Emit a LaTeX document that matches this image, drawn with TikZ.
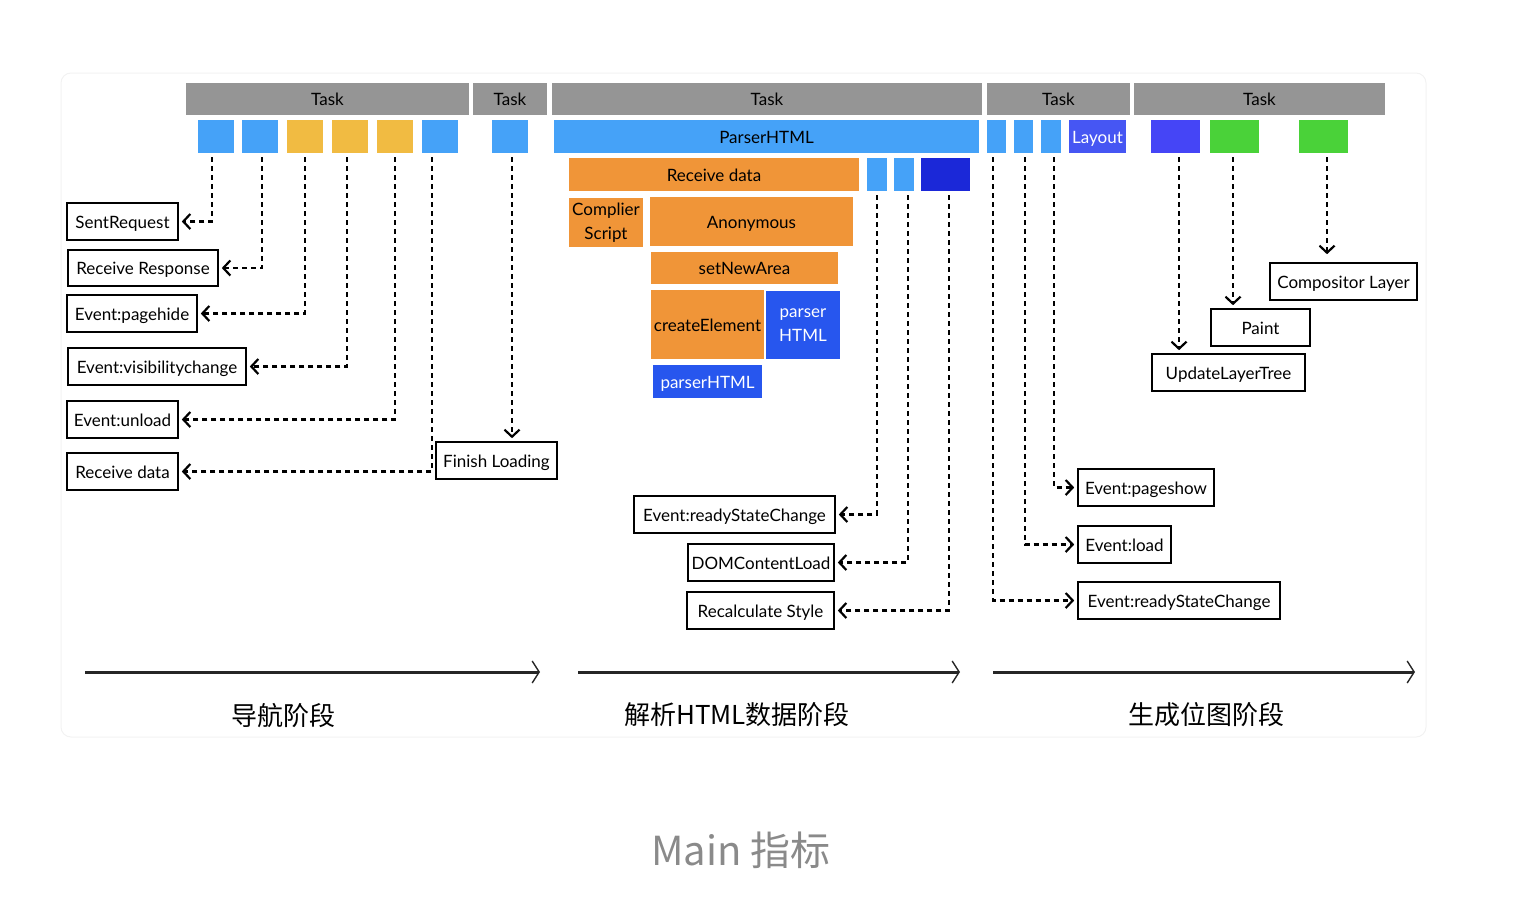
\documentclass[tikz,border=0pt]{standalone}
\usepackage{fontspec}
\setmainfont{Lato}
\newfontfamily\cjkfont{Noto Sans CJK SC}
\usepackage{tikz}
\usetikzlibrary{arrows.meta}
\definecolor{taskgray}{HTML}{959595}
\definecolor{lblue}{HTML}{45A2F8}
\definecolor{tyellow}{HTML}{F1BB42}
\definecolor{torange}{HTML}{F09538}
\definecolor{dblue}{HTML}{1B28D8}
\definecolor{mblue}{HTML}{2756EE}
\definecolor{layblue}{HTML}{4656F3}
\definecolor{vblue}{HTML}{4545F6}
\definecolor{tgreen}{HTML}{4AD239}
\definecolor{capgray}{HTML}{8A8A8A}
\tikzstyle{every node}=[font=\fontsize{17}{24}\selectfont]
\tikzstyle{cell}=[rectangle,inner sep=0pt,minimum height=33pt]
\tikzstyle{blk}=[cell,text height=16pt,text depth=2.5pt]
\tikzstyle{task}=[blk,fill=taskgray,minimum height=32pt]
\tikzstyle{evt}=[draw,rectangle,line width=1.6pt,fill=white,inner sep=0pt,minimum height=37pt,text height=16pt,text depth=2.5pt]
\tikzstyle{dline}=[-{Straight Barb[length=7pt,width=15pt,line width=2.2pt]},line width=2.3pt,dash pattern=on 5pt off 4pt,shorten <=4pt,shorten >=3pt]
\tikzstyle{phase}=[line width=3pt,black!85,-{Straight Barb[length=7pt,width=22pt,line width=1.4pt]}]
\tikzstyle{stage}=[font=\cjkfont\fontsize{26}{30}\selectfont]

\begin{document}
\begin{tikzpicture}[x=1pt,y=-1pt]
	\useasboundingbox (0,0) rectangle (1536,910);
	\draw[black!5,line width=1pt,rounded corners=10pt] (61,73) rectangle (1426,737);

	\node(t1)[task,minimum width=283pt] at (327.5,99){Task};
	\node(t2)[task,minimum width=74pt] at (510,99){Task};
	\node(t3)[task,minimum width=430pt] at (767,99){Task};
	\node(t4)[task,minimum width=143pt] at (1058.5,99){Task};
	\node(t5)[task,minimum width=251pt] at (1259.5,99){Task};

	\node(a1)[blk,fill=lblue,minimum width=36pt] at (216,136.5){};
	\node(a2)[blk,fill=lblue,minimum width=36pt] at (260,136.5){};
	\node(a3)[blk,fill=tyellow,minimum width=36pt] at (305,136.5){};
	\node(a4)[blk,fill=tyellow,minimum width=36pt] at (350,136.5){};
	\node(a5)[blk,fill=tyellow,minimum width=36pt] at (395,136.5){};
	\node(a6)[blk,fill=lblue,minimum width=36pt] at (440,136.5){};
	\node(b1)[blk,fill=lblue,minimum width=36pt] at (510,136.5){};

	\node(ph)[blk,fill=lblue,minimum width=425pt] at (766.5,136.5){ParserHTML};
	\node(rd)[blk,fill=torange,minimum width=290pt] at (714,174.5){Receive data};
	\node(f1)[blk,fill=lblue,minimum width=20pt] at (877,174.5){};
	\node(f2)[blk,fill=lblue,minimum width=20pt] at (904,174.5){};
	\node(f3)[blk,fill=dblue,minimum width=49pt] at (945.5,174.5){};
	\node(cs)[cell,fill=torange,minimum width=74pt,minimum height=49pt,align=center] at (606,222.5){Complier\\Script};
	\node(an)[blk,fill=torange,minimum width=203pt,minimum height=49pt] at (751.5,221.5){Anonymous};
	\node(sa)[blk,fill=torange,minimum width=187pt,minimum height=32pt] at (744.5,268){setNewArea};
	\node(ce)[blk,fill=torange,minimum width=113pt,minimum height=69pt] at (707.5,324.5){createElement};
	\node(p1)[cell,fill=mblue,text=white,minimum width=74pt,minimum height=68pt,align=center] at (803,325){parser\\HTML};
	\node(p2)[blk,fill=mblue,text=white,minimum width=109pt] at (707.5,381.5){parserHTML};

	\node(d1)[blk,fill=lblue,minimum width=19pt] at (996.5,136.5){};
	\node(d2)[blk,fill=lblue,minimum width=19pt] at (1023.5,136.5){};
	\node(d3)[blk,fill=lblue,minimum width=20pt] at (1051,136.5){};
	\node(ly)[blk,fill=layblue,text=white,minimum width=57pt] at (1097.5,136.5){Layout};
	\node(e1)[blk,fill=vblue,minimum width=49pt] at (1175.5,136.5){};
	\node(e2)[blk,fill=tgreen,minimum width=49pt] at (1234.5,136.5){};
	\node(e3)[blk,fill=tgreen,minimum width=49pt] at (1323.5,136.5){};

	\node(sr)[evt,minimum width=111pt] at (122.5,221.5){SentRequest};
	\node(rr)[evt,minimum width=150pt,minimum height=36pt] at (143,268){Receive Response};
	\node(eph)[evt,minimum width=130pt] at (132,313.5){Event:pagehide};
	\node(evc)[evt,minimum width=178pt] at (157,366.5){Event:visibilitychange};
	\node(eul)[evt,minimum width=111pt] at (122.5,419.5){Event:unload};
	\node(rcv)[evt,minimum width=111pt] at (122.5,471.5){Receive data};
	\node(fl)[evt,minimum width=121pt] at (496.5,460.5){Finish Loading};

	\node(rs1)[evt,minimum width=201pt] at (734.5,514.5){Event:readyStateChange};
	\node(dcl)[evt,minimum width=146pt] at (761,562.5){DOMContentLoad};
	\node(rcs)[evt,minimum width=147pt] at (760.5,610.5){Recalculate Style};

	\node(psh)[evt,minimum width=136pt] at (1146,487.5){Event:pageshow};
	\node(eld)[evt,minimum width=93pt] at (1124.5,544.5){Event:load};
	\node(rs2)[evt,minimum width=202pt] at (1179,600.5){Event:readyStateChange};
	\node(cl)[evt,minimum width=147pt] at (1343.5,281.5){Compositor Layer};
	\node(pt)[evt,minimum width=99pt] at (1260.5,327.5){Paint};
	\node(ult)[evt,minimum width=153pt] at (1228.5,372.5){UpdateLayerTree};

	\draw[dline] ([xshift=-4pt]a1.south) |- (sr.east);
	\draw[dline] ([xshift=2pt]a2.south) |- (rr.east);
	\draw[dline] (a3.south) |- (eph.east);
	\draw[dline] ([xshift=-3pt]a4.south) |- (evc.east);
	\draw[dline] (a5.south) |- (eul.east);
	\draw[dline] ([xshift=-8pt]a6.south) |- (rcv.east);
	\draw[dline] ([xshift=2pt]b1.south) -- ([xshift=2pt]b1.south |- fl.north);

	\draw[dline] (f1.south) |- (rs1.east);
	\draw[dline] ([xshift=4pt]f2.south) |- (dcl.east);
	\draw[dline] ([xshift=3.5pt]f3.south) |- (rcs.east);

	\draw[dline] ([xshift=-3.5pt]d1.south) |- (rs2.west);
	\draw[dline] ([xshift=1.5pt]d2.south) |- (eld.west);
	\draw[dline] ([xshift=3pt]d3.south) |- (psh.west);
	\draw[dline] ([xshift=3.5pt]e1.south) -- ([xshift=3.5pt]e1.south |- ult.north);
	\draw[dline] ([xshift=-1.5pt]e2.south) -- ([xshift=-1.5pt]e2.south |- pt.north);
	\draw[dline,shorten >=8pt] ([xshift=3.5pt]e3.south) -- ([xshift=3.5pt]e3.south |- cl.north);

	\coordinate (s1) at (85,672);
	\coordinate (s1e) at (540,672);
	\coordinate (s2) at (578,672);
	\coordinate (s2e) at (960,672);
	\coordinate (s3) at (993,672);
	\coordinate (s3e) at (1415,672);
	\draw[phase] (s1) -- (s1e);
	\draw[phase] (s2) -- (s2e);
	\draw[phase] (s3) -- (s3e);
	\node(n1)[stage] at (283,716){导航阶段};
	\node(n2)[stage] at (737,715){解析HTML数据阶段};
	\node(n3)[stage] at (1206,715){生成位图阶段};

	\node(cap)[font=\cjkfont\fontsize{40}{48}\selectfont,text=capgray] at (741,850){Main 指标};
\end{tikzpicture}
\end{document}
